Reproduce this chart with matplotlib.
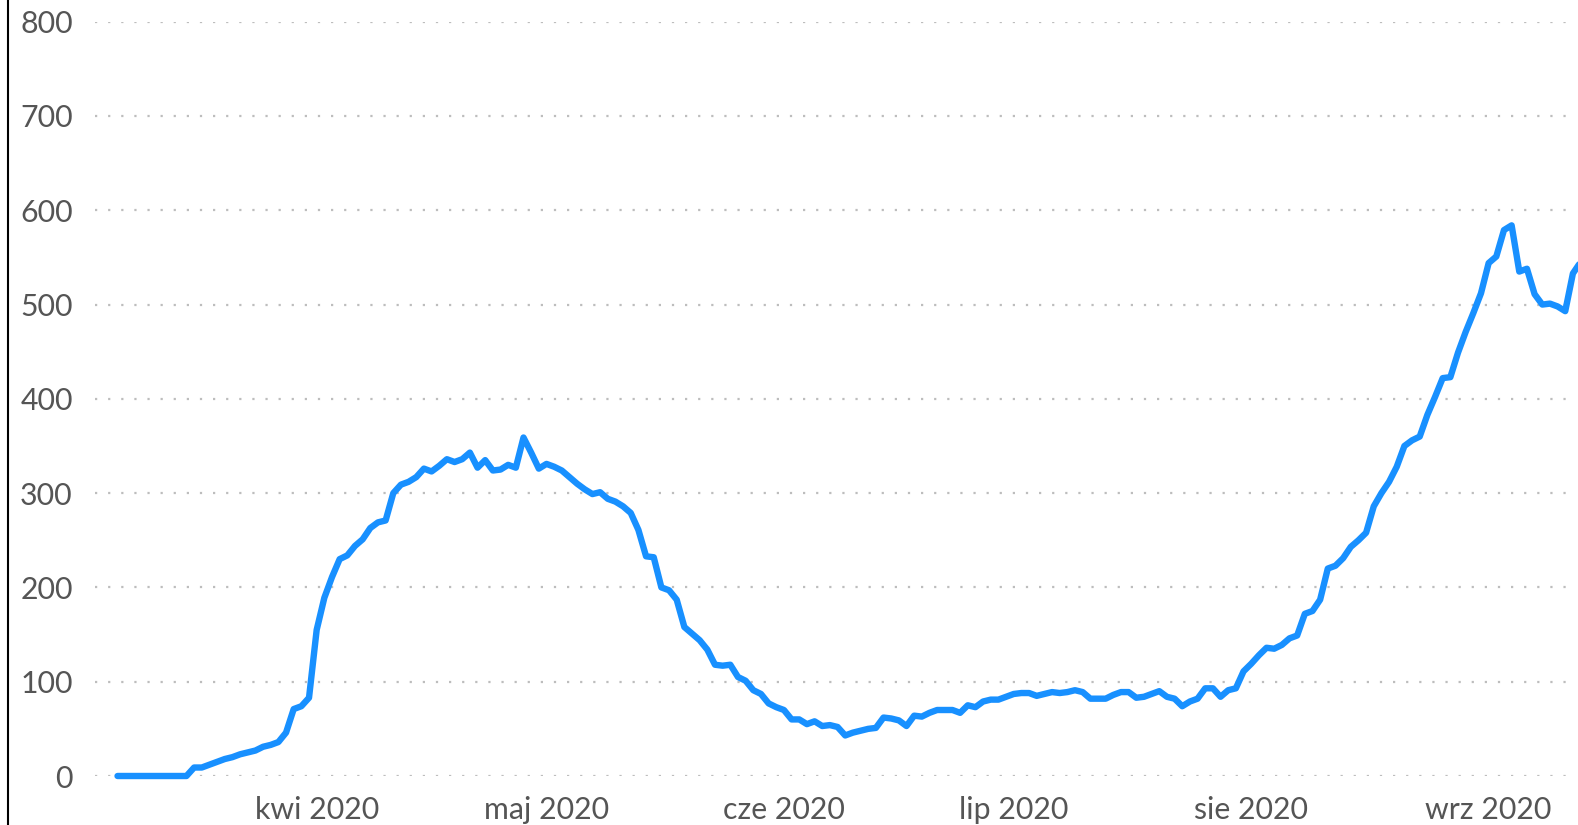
import numpy as np
import pandas as pd
import matplotlib
matplotlib.use("Agg")
import matplotlib.pyplot as plt
import matplotlib.dates as mdates
from matplotlib.lines import Line2D

# ---- data ----
start_date = "2020-03-06"
values = [
    0, 0, 0, 0, 0, 0, 0, 0, 0, 0,
    9, 9, 12, 15, 18, 20, 23, 25, 27, 31,
    33, 36, 46, 71, 74, 83, 155, 189, 211, 230,
    234, 244, 251, 263, 269, 271, 300, 309, 312, 317,
    326, 323, 329, 336, 333, 336, 343, 327, 335, 324,
    325, 330, 327, 359, 343, 326, 331, 328, 324, 317,
    310, 304, 299, 301, 294, 291, 286, 279, 261, 233,
    232, 200, 197, 187, 158, 151, 144, 134, 118, 117,
    118, 105, 101, 91, 87, 77, 73, 70, 60, 60,
    55, 58, 53, 54, 52, 43, 46, 48, 50, 51,
    62, 61, 59, 53, 64, 63, 67, 70, 70, 70,
    67, 75, 73, 79, 81, 81, 84, 87, 88, 88,
    85, 87, 89, 88, 89, 91, 89, 82, 82, 82,
    86, 89, 89, 83, 84, 87, 90, 84, 82, 74,
    79, 82, 93, 93, 84, 91, 93, 111, 119, 128,
    136, 135, 139, 146, 149, 172, 175, 187, 220, 223,
    231, 243, 250, 258, 286, 300, 312, 328, 350, 356,
    360, 383, 402, 422, 423, 449, 471, 491, 512, 544,
    551, 579, 584, 535, 538, 511, 500, 501, 498, 493,
    533, 545, 558,
]
tick_dates = ["2020-04-01", "2020-05-01", "2020-06-01", "2020-07-01", "2020-08-01", "2020-09-01"]
tick_labels = ["kwi 2020", "maj 2020", "cze 2020", "lip 2020", "sie 2020", "wrz 2020"]
y_ticks = [0, 100, 200, 300, 400, 500, 600, 700, 800]

dates = pd.date_range(start_date, periods=len(values), freq="D")

W, H = 1578, 825
fig = plt.figure(figsize=(W / 100, H / 100), dpi=100)
ax_left, ax_right = 95, 1570
ax_top, ax_bottom = 21.7, 776
ax = fig.add_axes([ax_left / W, 1 - ax_bottom / H, (ax_right - ax_left) / W, (ax_bottom - ax_top) / H])

font = ["Lato", "DejaVu Sans"]
txt_color = "#555555"

ax.plot(dates, values, color="#1890ff", lw=4.6, solid_joinstyle="round",
        solid_capstyle="round", clip_on=False, zorder=3)

t0 = pd.Timestamp(start_date)
ax.set_xlim(t0 - pd.Timedelta(days=2.94), t0 + pd.Timedelta(days=189.62))
ax.set_ylim(0, 800)

ax.set_yticks(y_ticks)
ax.set_yticklabels([str(v) for v in y_ticks])
ax.set_xticks([pd.Timestamp(d) for d in tick_dates])
ax.set_xticklabels(tick_labels)

for lab in ax.get_xticklabels() + ax.get_yticklabels():
    lab.set_fontfamily(font)
    lab.set_fontsize(21.8)
    lab.set_color(txt_color)

ax.tick_params(axis="both", length=0)
ax.tick_params(axis="y", pad=16)
ax.tick_params(axis="x", pad=14.5)

ax.grid(axis="y", color="#bdbdbd", lw=1.6, linestyle=(0, (1, 4.9)))
ax.grid(axis="x", visible=False)
for s in ax.spines.values():
    s.set_visible(False)
ax.set_axisbelow(True)

# black vertical border line at left of figure
fig.add_artist(Line2D([8.3 / W, 8.3 / W], [0, 1], color="black", lw=1.5, transform=fig.transFigure))

fig.savefig("out.png", dpi=100, facecolor="white")
